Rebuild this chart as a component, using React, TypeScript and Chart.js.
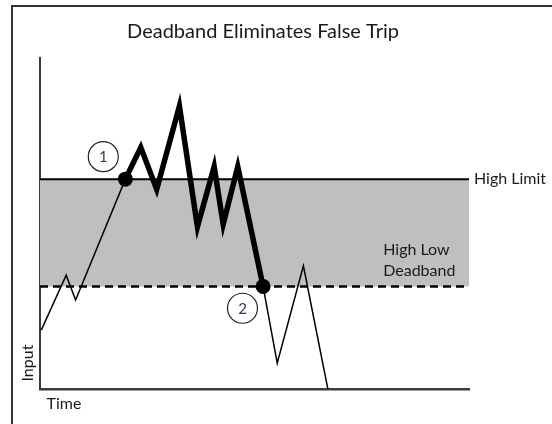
import React, { useEffect, useRef } from "react";
import { Chart, registerables } from "chart.js";

Chart.register(...registerables);

// ---- data ----
const timeValues = [0.3, 6.1, 8.3, 19.9, 23.5, 27.2, 32.5, 36.7, 40.6, 42.7, 46.1, 52.0, 55.3, 61.4, 67.1];
const inputValues = [17.8, 34.4, 26.9, 63.4, 73.0, 60.3, 85.5, 49.0, 67.2, 49.8, 67.2, 31.0, 7.8, 37.2, 0];
const tripStartIndex = 3;
const tripEndIndex = 11;
const HIGH_LIMIT = 63.4;
const DEADBAND_LOW = 31.0;
const limitSpan = [0, 100];
const markerTimes = [14.75, 47.2];
const markerInputs = [70.2, 24.4];
const markerLabels = ["1", "2"];
const titleText = "Deadband Eliminates False Trip";
const xAxisTitle = "Time";
const yAxisTitle = "Input";
const highLimitLabel = "High Limit";
const deadbandLabelLines = ["High Low", "Deadband"];
const deadbandLabelTime = 80;

const FONT = "Lato, 'Open Sans', sans-serif";
const TEXT_COLOR = "#1a1a1a";

const framePlugin = {
  id: "frame",
  beforeDraw(chart: any) {
    const { ctx, width, height } = chart;
    ctx.save();
    ctx.fillStyle = "#ffffff";
    ctx.fillRect(0, 0, width, height);
    ctx.strokeStyle = "#333333";
    ctx.lineWidth = 2;
    ctx.strokeRect(12, 6, width + 20, height + 20);
    ctx.restore();
  },
};

const textPlugin = {
  id: "texts",
  afterDraw(chart: any) {
    const { ctx, chartArea } = chart;
    const x = chart.scales.x;
    const y = chart.scales.y;
    ctx.save();
    ctx.fillStyle = TEXT_COLOR;
    ctx.textBaseline = "alphabetic";

    // title
    ctx.font = `20px ${FONT}`;
    ctx.textAlign = "center";
    ctx.fillText(titleText, 263, 38);

    // limit labels
    ctx.font = `16px ${FONT}`;
    ctx.textAlign = "left";
    const hy = y.getPixelForValue(HIGH_LIMIT);
    ctx.fillText(highLimitLabel, chartArea.right + 5, hy + 5);
    const dy = y.getPixelForValue(DEADBAND_LOW);
    const dx = x.getPixelForValue(deadbandLabelTime);
    ctx.fillText(deadbandLabelLines[0], dx, dy - 31);
    ctx.fillText(deadbandLabelLines[1], dx, dy - 10.5);

    // axis titles
    ctx.fillText(xAxisTitle, chartArea.left + 6.5, chartArea.bottom + 19.5);
    ctx.save();
    ctx.translate(chartArea.left - 7, chartArea.bottom - 7.5);
    ctx.rotate(-Math.PI / 2);
    ctx.fillText(yAxisTitle, 0, 0);
    ctx.restore();

    // marker numbers
    ctx.font = `15px ${FONT}`;
    ctx.fillStyle = "#2f3b55";
    ctx.textAlign = "center";
    ctx.textBaseline = "middle";
    markerLabels.forEach((lab, i) => {
      ctx.fillText(lab, x.getPixelForValue(markerTimes[i]), y.getPixelForValue(markerInputs[i]) + 0.5);
    });
    ctx.restore();
  },
};

export default function App() {
  const canvasRef = useRef<HTMLCanvasElement | null>(null);

  useEffect(() => {
    const canvas = canvasRef.current;
    if (!canvas) return;

    const signal = timeValues.map((t, i) => ({ x: t, y: inputValues[i] }));
    const highLine = limitSpan.map((t) => ({ x: t, y: HIGH_LIMIT }));
    const lowLine = limitSpan.map((t) => ({ x: t, y: DEADBAND_LOW }));
    const markers = markerTimes.map((t, i) => ({ x: t, y: markerInputs[i] }));
    const isTrip = (i: number) => i === tripStartIndex || i === tripEndIndex;

    const chart = new Chart(canvas, {
      type: "line",
      data: {
        datasets: [
          {
            label: "markers",
            data: markers,
            showLine: false,
            pointRadius: 15,
            pointHoverRadius: 15,
            pointBackgroundColor: "#ffffff",
            pointBorderColor: "#222222",
            pointBorderWidth: 1.2,
            order: 0,
          },
          {
            label: "Input",
            data: signal,
            borderColor: "#000000",
            borderWidth: 1.5,
            borderJoinStyle: "miter",
            tension: 0,
            fill: false,
            pointRadius: signal.map((_, i) => (isTrip(i) ? 7.5 : 0)),
            pointHoverRadius: signal.map((_, i) => (isTrip(i) ? 7.5 : 0)),
            pointBackgroundColor: "#000000",
            pointBorderColor: "#000000",
            pointBorderWidth: 0,
            segment: {
              borderWidth: (ctx: any) =>
                ctx.p0DataIndex >= tripStartIndex && ctx.p1DataIndex <= tripEndIndex ? 5.5 : 1.5,
            },
            order: 1,
          },
          {
            label: "High Limit",
            data: highLine,
            borderColor: "#000000",
            borderWidth: 2,
            pointRadius: 0,
            fill: { target: 3 },
            backgroundColor: "#bfbfbf",
            order: 2,
          },
          {
            label: "Deadband",
            data: lowLine,
            borderColor: "#000000",
            borderWidth: 2.5,
            borderDash: [8, 5],
            pointRadius: 0,
            fill: false,
            order: 3,
          },
        ],
      },
      options: {
        responsive: false,
        animation: false,
        events: [],
        layout: { padding: { left: 40, right: 83, top: 58, bottom: 35 } },
        plugins: {
          legend: { display: false },
          title: { display: false },
          tooltip: { enabled: false },
          filler: { drawTime: "beforeDatasetsDraw" },
        } as any,
        scales: {
          x: {
            type: "linear",
            min: 0,
            max: 100,
            z: 1,
            ticks: { display: false },
            grid: { display: false, drawTicks: false },
            border: { display: true, color: "#3a3a3a", width: 2.5 },
          },
          y: {
            type: "linear",
            min: 0,
            max: 100,
            z: 1,
            ticks: { display: false },
            grid: { display: false, drawTicks: false },
            border: { display: true, color: "#3a3a3a", width: 2 },
          },
        },
      },
      plugins: [framePlugin, textPlugin],
    });

    return () => chart.destroy();
  }, []);

  return (
    <div style={{ position: "absolute", left: 0, top: 0, width: 552, height: 424 }}>
      <canvas ref={canvasRef} width={552} height={424} style={{ display: "block", width: 552, height: 424 }} />
    </div>
  );
}
